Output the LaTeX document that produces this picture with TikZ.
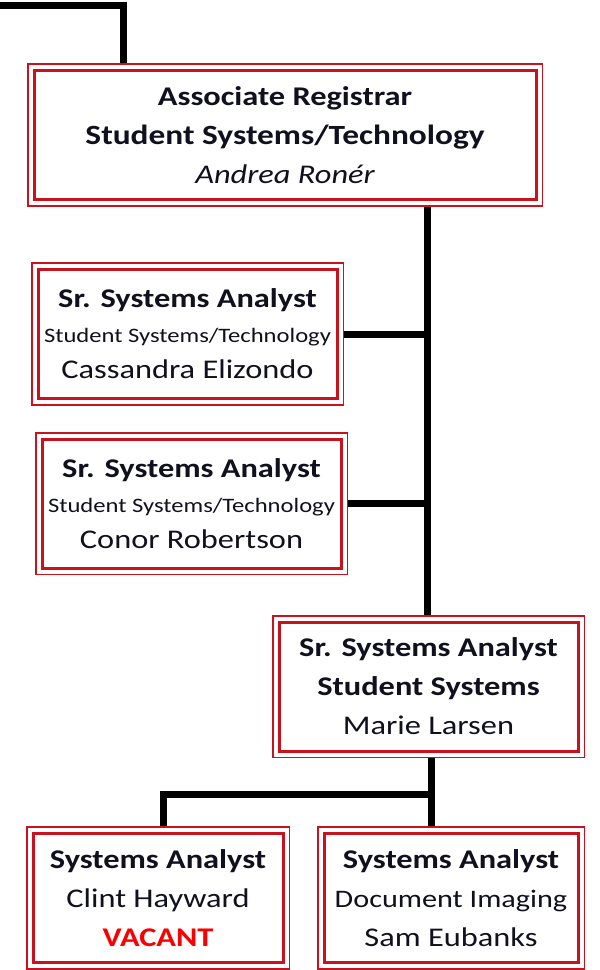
\documentclass[tikz,border=0pt]{standalone}
\usepackage{fontspec}
\setmainfont[FakeStretch=1.2]{Carlito}

\definecolor{boxred}{RGB}{200,18,30}
\definecolor{ink}{RGB}{16,16,30}
\definecolor{vacantred}{RGB}{250,0,0}

\newcommand{\bigline}{\fontsize{27}{39}\selectfont}
\newcommand{\smallline}{\fontsize{20.5}{39}\selectfont}

\pgfdeclarelayer{links}
\pgfdeclarelayer{frames}
\pgfsetlayers{links,frames,main}

\tikzset{
  rolebox/.style={draw=boxred, line width=3pt, fill=white, text=ink, align=center,
    inner sep=0pt, outer sep=0pt, minimum height=129pt, font=\bigline},
  outerframe/.style={draw=boxred, line width=1.6pt, fill=white},
  link/.style={line width=7pt, black},
}

\begin{document}
\begin{tikzpicture}[x=1pt, y=-1pt]
	\useasboundingbox (0,0) rectangle (600,970);

	%the boxes
	\node[rolebox, minimum width=502pt] (reg) at (285,135)
		{{\bfseries Associate Registrar}\\{\bfseries\fontsize{27.8}{39}\selectfont Student Systems/Technology}\\{\itshape Andrea Ronér}};
	\node[rolebox, minimum width=299pt] (cas) at (187.5,334)
		{{\bfseries Sr. Systems Analyst}\\[-4pt]{\smallline Student Systems/Technology}\\[-3pt]Cassandra Elizondo};
	\node[rolebox, minimum width=299pt] (con) at (191.5,503.5)
		{{\bfseries Sr. Systems Analyst}\\[-4pt]{\smallline Student Systems/Technology}\\[-3pt]Conor Robertson};
	\node[rolebox, minimum width=299pt] (mar) at (428.5,686.5)
		{{\bfseries Sr. Systems Analyst}\\{\bfseries Student Systems}\\Marie Larsen};
	\node[rolebox, minimum width=250pt] (cli) at (158,898)
		{{\bfseries Systems Analyst}\\Clint Hayward\\{\bfseries\color{vacantred}VACANT}};
	\node[rolebox, minimum width=254pt] (sam) at (451,898)
		{{\bfseries Systems Analyst}\\{\fontsize{25.2}{39}\selectfont Document Imaging}\\Sam Eubanks};

	%outer red lines
	\begin{pgfonlayer}{frames}
	\foreach \b in {reg,cas,con,mar,cli,sam}
		\draw[outerframe] ([shift={(-6.3pt,6.3pt)}]\b.north west) rectangle ([shift={(6.3pt,-6.3pt)}]\b.south east);
	\end{pgfonlayer}

	%connectors
	\coordinate (topend) at (-5,5);
	\coordinate (toptap) at (123,0);
	\coordinate (spine) at (427,0);
	\coordinate (split) at (431,794);
	\coordinate (clitap) at (163,0);
	\begin{pgfonlayer}{links}
	\draw[link] (topend) -| (toptap |- reg);
	\draw[link] (spine |- reg) -- (spine |- mar);
	\draw[link] (cas) -- (cas -| spine);
	\draw[link] (con) -- (con -| spine);
	\draw[link] (split |- mar) -- (split |- sam);
	\draw[link] (split) -| (clitap |- cli);
	\end{pgfonlayer}

\end{tikzpicture}
\end{document}
